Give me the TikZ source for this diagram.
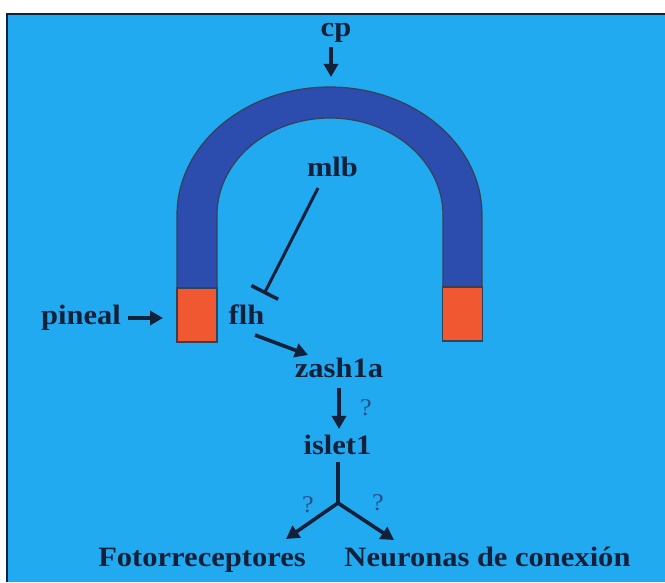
\documentclass[tikz,border=0pt]{standalone}
\usepackage{fontspec}
\setmainfont{Liberation Serif}[FakeStretch=1.09]
\usetikzlibrary{arrows.meta}
\definecolor{bg}{RGB}{33,170,240}
\definecolor{archblue}{RGB}{44,76,174}
\definecolor{archred}{RGB}{240,88,50}
\definecolor{ink}{RGB}{18,32,58}
\definecolor{qcol}{RGB}{40,78,140}
\begin{document}
\begin{tikzpicture}[x=1pt,y=1pt,
 lbl/.style={font=\fontsize{28}{28}\selectfont\bfseries, text=ink, inner sep=0pt, anchor=base},
 qmark/.style={font=\fontsize{24}{24}\selectfont, text=qcol, inner sep=0pt},
 arr/.style={draw=ink, line width=3.6pt, -{Triangle[length=13pt,width=14pt]}},
 inh/.style={draw=ink, line width=3pt, -{Bar[width=30pt,line width=3.5pt]}},
 plainline/.style={draw=ink, line width=3.6pt},
 redbox/.style={fill=archred, draw=ink!85, line width=1.2pt, minimum width=40pt, minimum height=54pt, inner sep=0pt}]
\useasboundingbox (0,0) rectangle (665,582);
\fill[white] (0,0) rectangle (665,582);
\fill[bg] (7,0) rectangle (665,568);
\draw[ink, line width=2pt] (7,0) -- (7,568) -- (665,568);
% arch
\draw[fill=archblue, draw=ink!85, line width=1.2pt]
  (177,294) -- (177,367) arc[start angle=180,end angle=0,x radius=152.5,y radius=128]
  -- (482,294) -- (443,294) -- (443,367)
  arc[start angle=0,end angle=180,x radius=113,y radius=97] -- (217,294) -- cycle;
\node[redbox] (redL) at (197,267) {};
\node[redbox] (redR) at (462.5,268) {};
% labels
\node[lbl] (cp) at (336,545) {cp};
\node[lbl] (mlb) at (332.5,405) {mlb};
\node[lbl] (pineal) at (81,257) {pineal};
\node[lbl] (flh) at (246.5,257) {flh};
\node[lbl] (zash) at (339,204) {zash1a};
\node[lbl] (islet) at (337.5,128) {islet1};
\node[lbl] (foto) at (202,16) {Fotorreceptores};
\node[lbl] (neur) at (487.5,16) {Neuronas de conexión};
\node[qmark] (q1) at (366,174) {?};
\node[qmark] (q2) at (308,77) {?};
\node[qmark] (q3) at (378,79) {?};
% connector points
\coordinate (cpS) at (331,535);
\coordinate (cpE) at (331,505);
\coordinate (mlbS) at (318,394);
\coordinate (flhBar) at (264,288);
\coordinate (pinS) at (128,264);
\coordinate (pinE) at (163,264);
\coordinate (flhS) at (255,247);
\coordinate (zashE) at (308,227);
\coordinate (zashS) at (339,194);
\coordinate (isletE) at (339,153);
\coordinate (isletS) at (338,120);
\coordinate (junc) at (338,79);
\coordinate (fotoE) at (286,43);
\coordinate (neurE) at (394,42);
% connectors
\draw[arr] (cpS) -- (cpE);
\draw[inh] (mlbS) -- (flhBar);
\draw[arr] (pinS) -- (pinE);
\draw[arr] (flhS) -- (zashE);
\draw[arr] (zashS) -- (isletE);
\draw[plainline] (isletS) -- (junc);
\draw[arr] (junc) -- (fotoE);
\draw[arr] (junc) -- (neurE);
\end{tikzpicture}
\end{document}
